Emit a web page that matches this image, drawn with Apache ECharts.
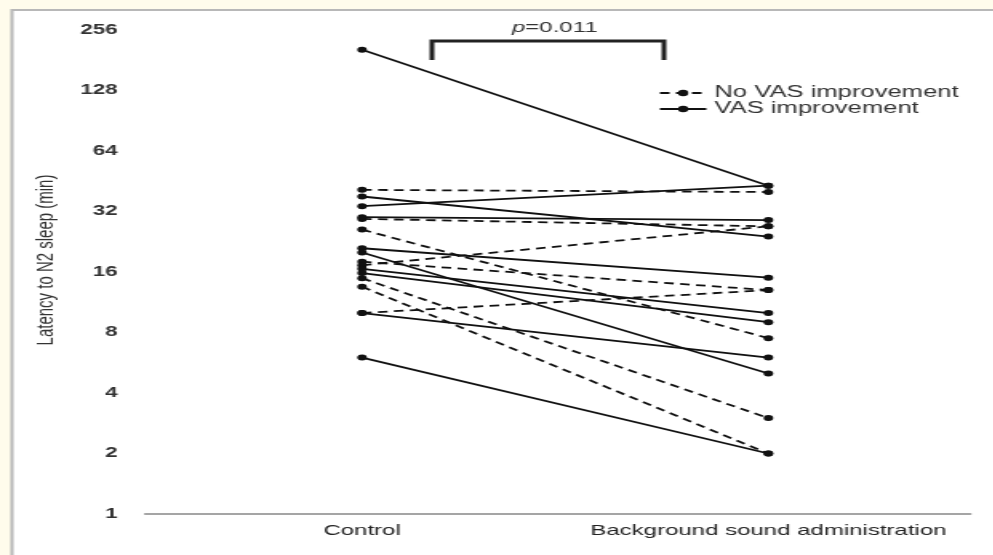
<!DOCTYPE html>
<html>
<head>
<meta charset="utf-8">
<style>
  html, body { margin: 0; padding: 0; background: #fffcec; overflow: hidden; }
  /* The figure is laid out in a narrower frame and widened horizontally. */
  #chart { width: 620.625px; height: 555px; transform: scaleX(1.6); transform-origin: 0 0; }
</style>
<script src="https://cdn.jsdelivr.net/npm/echarts@6/dist/echarts.min.js"></script>
</head>
<body>
<div id="chart"></div>
<script>
// Latency to N2 sleep (min), per subject: [Control, Background sound administration]
const categories = ['Control', 'Background sound administration'];
const yTicks = [1, 2, 4, 8, 16, 32, 64, 128, 256];
const noVasImprovement = [
  [41, 40], [29.4, 27], [26, 7.5], [18, 13],
  [17.3, 27], [14.9, 3], [13.5, 2], [10, 13]
];
const vasImprovement = [
  [204, 43], [38, 24], [34, 43], [30, 29], [21, 15],
  [20, 5], [16.6, 10], [15.8, 9], [10, 6], [6, 2]
];
const legendNames = ['No VAS improvement', 'VAS improvement'];
const yAxisTitle = 'Latency to N2 sleep (min)';
const pText = '=0.011';

const chart = echarts.init(document.getElementById('chart'));

function subjectSeries(pair, name, dashed) {
  return {
    type: 'line',
    name: name,
    data: pair.map((v, i) => [i, v]),
    symbol: 'circle',
    symbolSize: 6,
    showSymbol: true,
    itemStyle: { color: '#111' },
    lineStyle: { color: '#111', width: 1.8, type: dashed ? [6, 4] : 'solid' },
    emphasis: { disabled: true },
    animation: false
  };
}

const series = [];
noVasImprovement.forEach(p => series.push(subjectSeries(p, legendNames[0], true)));
vasImprovement.forEach(p => series.push(subjectSeries(p, legendNames[1], false)));

chart.setOption({
  backgroundColor: '#fffcec',
  animation: false,
  textStyle: { fontFamily: 'Liberation Sans, Arial, sans-serif' },
  grid: { left: 90.6, right: 14.4, top: 30, bottom: 41 },
  graphic: [
    {
      type: 'rect', z: -10, silent: true,
      shape: { x: 7.5, y: 10, width: 700, height: 560 },
      style: { fill: '#ffffff', stroke: '#b8b8b8', lineWidth: 2 }
    },
    {
      type: 'polyline', silent: true,
      shape: { points: [[270, 60], [270, 41], [415, 41], [415, 60]] },
      style: { stroke: '#222', lineWidth: 3, fill: null }
    },
    {
      type: 'text', silent: true, left: 320, top: 20,
      style: {
        rich: {
          p: { fontStyle: 'italic', fontSize: 15, fill: '#333', fontFamily: 'Liberation Sans' },
          t: { fontSize: 15, fill: '#333', fontFamily: 'Liberation Sans' }
        },
        text: '{p|p}{t|' + pText + '}'
      }
    },
    {
      type: 'text', silent: true,
      x: 29, y: 260, rotation: Math.PI / 2,
      style: {
        text: yAxisTitle,
        fontSize: 15,
        fontFamily: 'Liberation Sans',
        fill: '#333',
        align: 'center',
        verticalAlign: 'middle'
      }
    }
  ],
  legend: {
    data: legendNames,
    orient: 'vertical',
    left: 406.5,
    top: 80,
    itemWidth: 29,
    itemHeight: 8,
    itemGap: 0,
    textStyle: { fontSize: 16, color: '#333', fontFamily: 'Liberation Sans' },
    inactiveColor: '#111',
    selectedMode: false
  },
  xAxis: {
    type: 'value',
    min: -0.5345,
    max: 1.4975,
    axisLine: { show: true, lineStyle: { color: '#888', width: 1.5 } },
    axisTick: { show: false },
    splitLine: { show: false },
    axisLabel: {
      customValues: [0, 1],
      formatter: v => categories[Math.round(v)],
      fontSize: 15,
      color: '#222',
      margin: 9
    }
  },
  yAxis: {
    type: 'log',
    logBase: 2,
    min: yTicks[0],
    max: yTicks[yTicks.length - 1],
    interval: 1,
    axisLine: { show: false },
    axisTick: { show: false },
    splitLine: { show: false },
    axisLabel: {
      formatter: v => String(Math.round(v)),
      fontWeight: 'bold',
      fontSize: 14,
      color: '#333',
      margin: 17
    }
  },
  series: series
});
</script>
</body>
</html>
